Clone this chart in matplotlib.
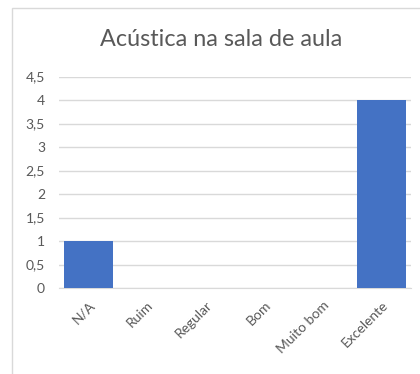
import matplotlib
matplotlib.use("Agg")
import matplotlib.pyplot as plt
from matplotlib.patches import Rectangle
from matplotlib.ticker import FuncFormatter

plt.rcParams["font.family"] = ["Lato", "DejaVu Sans"]

categorias = ["N/A", "Ruim", "Regular", "Bom", "Muito bom", "Excelente"]
respostas = [1, 0, 0, 0, 0, 4]
y_ticks = [0, 0.5, 1, 1.5, 2, 2.5, 3, 3.5, 4, 4.5]

W, H = 420, 374
fig = plt.figure(figsize=(W / 100, H / 100), dpi=100)
fig.patch.set_facecolor("white")

# moldura do gráfico (cortada à direita e embaixo)
fig.patches.append(Rectangle((12 / W, -0.1), 1.2, 1 - 8 / H + 0.1,
                             transform=fig.transFigure, fill=False,
                             edgecolor="#d9d9d9", linewidth=1.0))

ax = fig.add_axes([59 / W, 1 - 288 / H, (411 - 59) / W, (288 - 76.5) / H])
x = range(len(categorias))
ax.bar(x, respostas, width=0.83, color="#4472c4", zorder=3)

ax.set_xlim(-0.5, len(categorias) - 0.5)
ax.set_ylim(0, 4.5)
ax.set_yticks(y_ticks)
ax.yaxis.set_major_formatter(FuncFormatter(lambda v, p: f"{v:g}".replace(".", ",")))
ax.grid(axis="y", color="#d9d9d9", linewidth=1, zorder=0)
ax.set_xticks(list(x))
ax.set_xticklabels(categorias, rotation=45, ha="right", rotation_mode="anchor")

for s in ["top", "right", "left"]:
    ax.spines[s].set_visible(False)
ax.spines["bottom"].set_color("#d9d9d9")
ax.tick_params(length=0, labelsize=10, colors="#595959")
ax.tick_params(axis="x", pad=8)
ax.tick_params(axis="y", pad=10)

fig.text(221 / W, 1 - 40 / H, "Acústica na sala de aula", ha="center", va="center",
         fontsize=16.8, color="#595959")

plt.savefig("out.png", dpi=100)
